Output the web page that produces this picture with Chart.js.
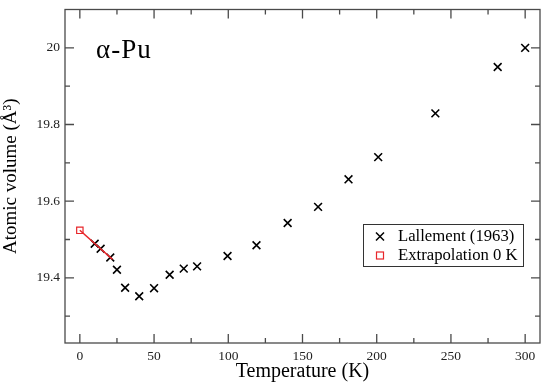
<!DOCTYPE html>
<html>
<head>
<meta charset="utf-8">
<script src="https://cdn.jsdelivr.net/npm/chart.js@4"></script>
<style>
  html, body { margin: 0; padding: 0; background: #fff; }
  #wrap { width: 550px; height: 388px; }
</style>
</head>
<body>
<div id="wrap"><canvas id="chart" width="550" height="388"></canvas></div>
<script>
// ---- data ----
const tempK = [10, 14, 20.5, 25, 30.5, 40, 50, 60.5, 70, 79, 99.5, 119, 140, 160.5, 181, 201, 239.5, 281.5, 300];
const volume = [19.489, 19.476, 19.453, 19.421, 19.374, 19.352, 19.373, 19.408, 19.424, 19.430, 19.457, 19.485, 19.543, 19.585, 19.657, 19.715, 19.829, 19.950, 20.0];
const extrapT = [0];
const extrapV = [19.524];
const fitT = [0, 22];
const fitV = [19.524, 19.448];
const xTicks = [0, 25, 50, 75, 100, 125, 150, 175, 200, 225, 250, 275, 300];
const yTicks = [19.3, 19.4, 19.5, 19.6, 19.7, 19.8, 19.9, 20.0];

const SERIF = "'Liberation Serif', 'DejaVu Serif', serif";
const RED = "#e8262a";

const toPts = (xs, ys) => xs.map((x, i) => ({ x: x, y: ys[i] }));

// inward ticks on all four sides + frame + label + legend
const framePlugin = {
    id: "frame",
    afterDraw(chart) {
        const ctx = chart.ctx;
        const a = chart.chartArea;
        const xs = chart.scales.x, ys = chart.scales.y;
        ctx.save();
        ctx.strokeStyle = "#4a4a4a";
        ctx.lineWidth = 1.3;
        ctx.strokeRect(a.left, a.top, a.right - a.left, a.bottom - a.top);

        ctx.beginPath();
        xTicks.forEach(v => {
            const px = xs.getPixelForValue(v);
            const len = v % 50 === 0 ? 9 : 5;
            ctx.moveTo(px, a.bottom); ctx.lineTo(px, a.bottom - len);
            ctx.moveTo(px, a.top); ctx.lineTo(px, a.top + len);
        });
        yTicks.forEach(v => {
            const py = ys.getPixelForValue(v);
            const major = Math.round(v * 10) % 2 === 0;
            const len = major ? 9 : 5;
            ctx.moveTo(a.left, py); ctx.lineTo(a.left + len, py);
            ctx.moveTo(a.right, py); ctx.lineTo(a.right - len, py);
        });
        ctx.stroke();

        // panel label
        ctx.fillStyle = "#000";
        ctx.font = "27px " + SERIF;
        ctx.letterSpacing = "1px";
        ctx.textBaseline = "alphabetic";
        ctx.textAlign = "left";
        ctx.fillText("α-Pu", 96, 58);
        ctx.letterSpacing = "0px";

        // legend box
        const lx = 363, ly = 224, lw = 160, lh = 42;
        ctx.fillStyle = "#fff";
        ctx.fillRect(lx, ly, lw, lh);
        ctx.strokeStyle = "#333";
        ctx.lineWidth = 1;
        ctx.strokeRect(lx + 0.5, ly + 0.5, lw, lh);

        // cross symbol
        const cx = 380, cy1 = 236.5, cy2 = 255.5;
        ctx.strokeStyle = "#000";
        ctx.lineWidth = 1.5;
        ctx.beginPath();
        ctx.moveTo(cx - 4, cy1 - 4); ctx.lineTo(cx + 4, cy1 + 4);
        ctx.moveTo(cx + 4, cy1 - 4); ctx.lineTo(cx - 4, cy1 + 4);
        ctx.stroke();
        // square symbol
        ctx.strokeStyle = RED;
        ctx.lineWidth = 1.2;
        ctx.strokeRect(cx - 3.5, cy2 - 3.5, 7, 7);

        ctx.fillStyle = "#000";
        ctx.font = "16.7px " + SERIF;
        ctx.textBaseline = "middle";
        ctx.fillText("Lallement (1963)", 398, cy1);
        ctx.fillText("Extrapolation 0 K", 398, cy2);
        ctx.restore();
    }
};

new Chart(document.getElementById("chart"), {
    type: "scatter",
    data: {
        datasets: [
            {
                label: "fit",
                type: "line",
                data: toPts(fitT, fitV),
                borderColor: RED,
                borderWidth: 1.5,
                pointRadius: 0,
                fill: false
            },
            {
                label: "Lallement (1963)",
                data: toPts(tempK, volume),
                pointStyle: "crossRot",
                pointRadius: 5.5,
                borderColor: "#000",
                borderWidth: 1.6
            },
            {
                label: "Extrapolation 0 K",
                data: toPts(extrapT, extrapV),
                pointStyle: "rect",
                pointRadius: 4.5,
                borderColor: RED,
                backgroundColor: "#fff",
                borderWidth: 1.2
            }
        ]
    },
    options: {
        responsive: false,
        animation: false,
        layout: { padding: { top: 9.5, right: 10, left: 0, bottom: 0 } },
        plugins: {
            legend: { display: false },
            tooltip: { enabled: false }
        },
        scales: {
            x: {
                type: "linear",
                min: -10,
                max: 310,
                grid: { display: false, drawTicks: false },
                border: { display: false },
                afterBuildTicks: s => { s.ticks = xTicks.filter(v => v % 50 === 0).map(v => ({ value: v })); },
                afterFit: s => { s.height = 45; s.paddingLeft = 0; s.paddingRight = 0; },
                ticks: {
                    autoSkip: false,
                    maxRotation: 0,
                    padding: 5,
                    color: "#222",
                    font: { family: SERIF, size: 13.5 }
                },
                title: {
                    display: true,
                    text: "Temperature (K)",
                    color: "#000",
                    padding: { top: 0, bottom: 4 },
                    font: { family: SERIF, size: 20 }
                }
            },
            y: {
                type: "linear",
                min: 19.23,
                max: 20.1,
                grid: { display: false, drawTicks: false },
                border: { display: false },
                afterBuildTicks: s => { s.ticks = yTicks.filter(v => Math.round(v * 10) % 2 === 0).map(v => ({ value: v })); },
                afterFit: s => { s.width = 65; s.paddingTop = 0; s.paddingBottom = 0; },
                ticks: {
                    autoSkip: false,
                    padding: 5,
                    color: "#222",
                    font: { family: SERIF, size: 13.5 },
                    callback: v => (Math.round(v * 10) / 10).toString()
                },
                title: {
                    display: true,
                    text: "Atomic volume (Å³)",
                    color: "#000",
                    padding: { top: 0, bottom: 0 },
                    font: { family: SERIF, size: 19 }
                }
            }
        }
    },
    plugins: [framePlugin]
});
</script>
</body>
</html>
